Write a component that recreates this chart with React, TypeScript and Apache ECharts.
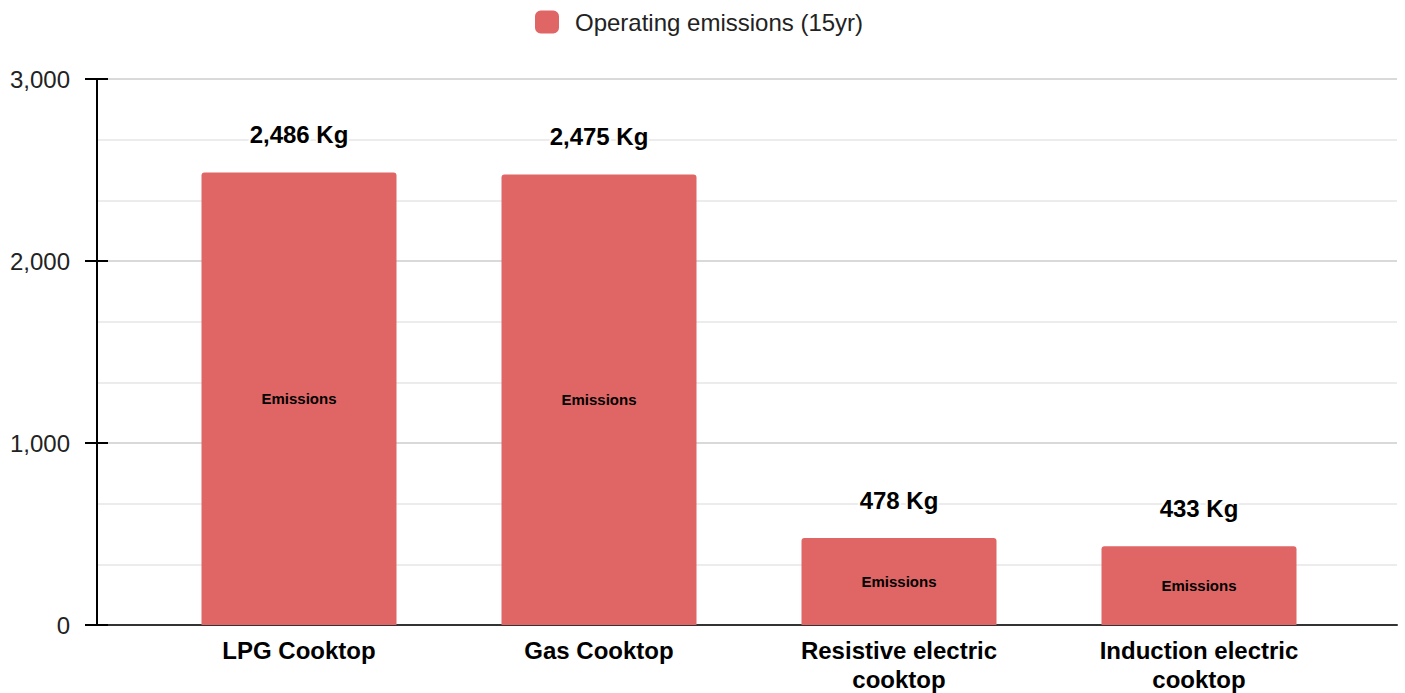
import React, { useEffect, useRef } from "react";
import * as echarts from "echarts";

const categories = ["LPG Cooktop", "Gas Cooktop", "Resistive electric\ncooktop", "Induction electric\ncooktop"];
const emissions = [2486, 2475, 478, 433];
const seriesName = "Operating emissions (15yr)";
const innerLabel = "Emissions";
const yMin = 0;
const yMax = 3000;
const yInterval = 1000;

const FONT = "'Liberation Sans', Arial, sans-serif";
const fmt = (v: number) => v.toLocaleString("en-US");

export default function App() {
  const ref = useRef<HTMLDivElement>(null);
  useEffect(() => {
    if (!ref.current) return;
    const chart = echarts.init(ref.current, null, { renderer: "svg" });
    const gridA = { left: 97, right: 8, top: 79, bottom: 68, containLabel: false, outerBoundsMode: "none" };
    const gridB = { left: 149, right: 56, top: 79, bottom: 68, containLabel: false, outerBoundsMode: "none" };
    chart.setOption({
      animation: false,
      textStyle: { fontFamily: FONT },
      legend: {
        data: [seriesName],
        top: 10,
        left: 535,
        padding: 0,
        itemWidth: 24,
        itemHeight: 23,
        itemGap: 10,
        icon: "roundRect",
        textStyle: { fontSize: 24, color: "#222", fontFamily: FONT, padding: [0, 0, 0, 11] },
      },
      grid: [gridA, gridB],
      xAxis: [
        {
          type: "category",
          gridIndex: 0,
          data: [""],
          axisLine: { show: true, lineStyle: { color: "#333", width: 2 } },
          axisTick: { show: false },
          axisLabel: { show: false },
          splitLine: { show: false },
        },
        {
          type: "category",
          gridIndex: 1,
          data: categories,
          axisLine: { show: false },
          axisTick: { show: false },
          axisLabel: {
            fontSize: 24,
            fontWeight: "bold",
            color: "#000",
            margin: 11,
            lineHeight: 29,
            fontFamily: FONT,
          },
        },
      ],
      yAxis: [
        {
          type: "value",
          gridIndex: 0,
          position: "left",
          min: yMin,
          max: yMax,
          interval: yInterval,
          axisLine: { show: true, lineStyle: { color: "#000", width: 2 } },
          axisTick: { show: true, length: 12, lineStyle: { color: "#000", width: 2 } },
          axisLabel: {
            fontSize: 24,
            color: "#222",
            margin: 27,
            formatter: (v: number) => fmt(v),
            fontFamily: FONT,
          },
          splitLine: { show: true, lineStyle: { color: "#cccccc", width: 1.5 } },
          minorTick: { show: false, splitNumber: 3 },
          minorSplitLine: { show: true, lineStyle: { color: "#e6e6e6", width: 1.5 } },
        },
        {
          type: "value",
          gridIndex: 0,
          position: "left",
          min: yMin,
          max: yMax,
          interval: yInterval,
          axisLine: { show: false },
          axisTick: { show: true, inside: true, length: 11, lineStyle: { color: "#000", width: 2 } },
          axisLabel: { show: false },
          splitLine: { show: false },
        },
        {
          type: "value",
          gridIndex: 1,
          min: yMin,
          max: yMax,
          interval: yInterval,
          show: false,
          splitLine: { show: false },
        },
      ],
      series: [
        {
          name: seriesName,
          type: "bar",
          xAxisIndex: 1,
          yAxisIndex: 2,
          data: emissions,
          barWidth: "65%",
          itemStyle: { color: "#e06666", borderRadius: [3, 3, 0, 0] },
          label: {
            show: true,
            position: "inside",
            formatter: innerLabel,
            fontSize: 15,
            fontWeight: "bold",
            color: "#000",
            fontFamily: FONT,
          },
        },
        {
          name: "valueLabels",
          type: "bar",
          xAxisIndex: 1,
          yAxisIndex: 2,
          data: emissions,
          barWidth: "65%",
          barGap: "-100%",
          silent: true,
          itemStyle: { color: "rgba(0,0,0,0)" },
          label: {
            show: true,
            position: "top",
            distance: 26,
            formatter: (p: any) => `${fmt(p.value)} Kg`,
            fontSize: 24,
            fontWeight: "bold",
            color: "#000",
            textBorderColor: "#fff",
            textBorderWidth: 4,
            fontFamily: FONT,
          },
        },
      ],
    });
    return () => chart.dispose();
  }, []);
  return (
    <div
      ref={ref}
      style={{ position: "fixed", left: 0, top: 0, width: 1405, height: 693, background: "#fff" }}
    />
  );
}
